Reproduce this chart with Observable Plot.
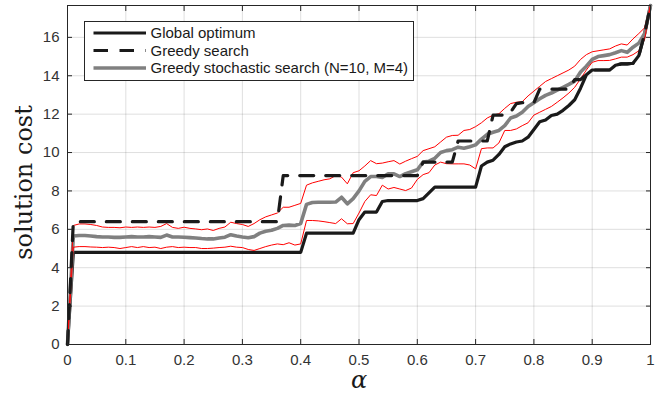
<!DOCTYPE html>
<html>
<head>
<meta charset="utf-8">
<script src="https://cdn.jsdelivr.net/npm/d3@7"></script>
<script src="https://cdn.jsdelivr.net/npm/@observablehq/plot@0.6"></script>
<style>
  body { margin: 0; background: #fff; }
  #wrap { position: relative; width: 657px; height: 395px; }
  #legend { position: absolute; left: 84px; top: 21px; width: 328px; height: 58px;
            border: 1px solid #262626; background: #fff; }
  #legend svg { display: block; }
  #legend text { font-family: "Liberation Sans", Arial, sans-serif; font-size: 15px; fill: #1a1a1a; }
</style>
</head>
<body>
<div id="wrap">
  <div id="chart"></div>
  <div id="legend"></div>
</div>
<script>
// alpha values (x)
const alpha = [0,0.01,0.02,0.03,0.04,0.05,0.06,0.07,0.08,0.09,
  0.10,0.11,0.12,0.13,0.14,0.15,0.16,0.17,0.18,0.19,
  0.20,0.21,0.22,0.23,0.24,0.25,0.26,0.27,0.28,0.29,
  0.30,0.31,0.32,0.33,0.34,0.35,0.36,0.37,0.38,0.39,
  0.40,0.41,0.42,0.43,0.44,0.45,0.46,0.47,0.48,0.49,
  0.50,0.51,0.52,0.53,0.54,0.55,0.56,0.57,0.58,0.59,
  0.60,0.61,0.62,0.63,0.64,0.65,0.66,0.67,0.68,0.69,
  0.70,0.71,0.72,0.73,0.74,0.75,0.76,0.77,0.78,0.79,
  0.80,0.81,0.82,0.83,0.84,0.85,0.86,0.87,0.88,0.89,
  0.90,0.91,0.92,0.93,0.94,0.95,0.96,0.97,0.98,0.99,1.00];

// Global optimum
const optimum = [0,4.8,4.8,4.8,4.8,4.8,4.8,4.8,4.8,4.8,
  4.8,4.8,4.8,4.8,4.8,4.8,4.8,4.8,4.8,4.8,
  4.8,4.8,4.8,4.8,4.8,4.8,4.8,4.8,4.8,4.8,
  4.8,4.8,4.8,4.8,4.8,4.8,4.8,4.8,4.8,4.8,
  4.8,5.8,5.8,5.8,5.8,5.8,5.8,5.8,5.8,5.8,
  6.5,6.9,6.9,6.9,7.45,7.5,7.5,7.5,7.5,7.5,
  7.5,7.6,7.9,8.2,8.2,8.2,8.2,8.2,8.2,8.2,
  8.2,9.3,9.5,9.6,9.9,10.3,10.45,10.55,10.6,10.8,
  11.2,11.6,11.7,11.93,12.0,12.2,12.45,12.75,13.35,14.05,
  14.3,14.3,14.3,14.3,14.55,14.62,14.62,14.65,15.05,16.2,17.66];

// Greedy search
const greedy = [0,6.4,6.4,6.4,6.4,6.4,6.4,6.4,6.4,6.4,
  6.4,6.4,6.4,6.4,6.4,6.4,6.4,6.4,6.4,6.4,
  6.4,6.4,6.4,6.4,6.4,6.4,6.4,6.4,6.4,6.4,
  6.4,6.4,6.4,6.4,6.4,6.4,6.4,8.8,8.8,8.8,
  8.8,8.8,8.8,8.8,8.8,8.8,8.8,8.8,8.8,8.8,
  8.8,8.8,8.8,8.8,8.8,8.8,8.8,8.8,8.8,8.8,
  8.8,9.5,9.5,9.5,9.5,9.5,9.5,10.6,10.6,10.6,
  10.6,10.6,10.6,11.95,11.95,11.95,12.1,12.55,12.6,12.6,
  12.6,13.3,13.3,13.3,13.3,13.3,13.3,13.8,13.8,14.05,
  14.3,14.3,14.3,14.3,14.55,14.62,14.62,14.65,15.05,16.2,17.66];

// Greedy stochastic search (N=10, M=4): mean
const stochMean = [0,5.65,5.68,5.68,5.65,5.62,5.6,5.6,5.58,5.58,
  5.6,5.62,5.6,5.6,5.62,5.6,5.58,5.7,5.6,5.6,
  5.59,5.57,5.55,5.52,5.5,5.5,5.55,5.59,5.72,5.65,
  5.6,5.56,5.62,5.8,5.9,5.95,6.05,6.2,6.22,6.2,
  6.3,7.3,7.4,7.41,7.41,7.41,7.42,7.67,7.33,7.6,
  8.0,8.5,8.75,8.75,8.7,8.89,8.89,8.75,8.9,9.0,
  9.1,9.5,9.55,9.7,10.0,10.1,10.15,10.28,10.22,10.3,
  10.4,10.7,10.95,11.06,11.15,11.4,11.8,11.9,12.1,12.4,
  12.6,12.8,12.98,13.1,13.25,13.4,13.55,13.72,14.2,14.5,
  14.85,15.0,15.05,15.1,15.2,15.31,15.22,15.49,15.7,16.2,17.66];

// Greedy stochastic search: upper bound (red)
const stochHigh = [0,6.2,6.28,6.28,6.25,6.2,6.12,6.1,6.1,6.08,
  6.12,6.1,6.12,6.1,6.12,6.1,6.15,6.3,6.1,6.05,
  6.11,6.05,6.02,5.98,6.02,5.94,6.05,6.12,6.37,6.3,
  6.25,6.15,6.3,6.5,6.65,6.75,6.85,7.15,7.15,7.25,
  7.35,8.3,8.42,8.5,8.58,8.63,8.8,8.72,8.37,8.95,
  9.05,9.3,9.58,9.42,9.45,9.52,9.58,9.4,9.55,9.68,
  9.8,10.1,10.2,10.3,10.55,10.8,10.89,10.9,11.15,11.2,
  11.35,11.55,11.8,11.95,12.02,12.3,12.55,12.62,12.65,12.95,
  13.2,13.45,13.7,13.85,14.0,14.15,14.3,14.5,14.85,15.1,
  15.25,15.3,15.35,15.4,15.55,15.66,15.6,15.92,16.2,16.5,17.66];

// Greedy stochastic search: lower bound (red)
const stochLow = [0,5.07,5.1,5.1,5.08,5.07,5.05,5.07,5.05,5.0,
  5.05,5.1,5.05,5.1,5.05,5.07,5.0,5.07,5.1,5.05,
  5.07,5.05,5.05,5.0,5.0,5.02,5.05,5.07,5.12,5.07,
  5.05,4.95,4.9,5.0,5.1,5.18,5.24,5.2,5.3,5.18,
  5.24,6.46,6.46,6.44,6.4,6.35,6.3,6.55,6.29,6.3,
  6.85,7.45,7.8,7.76,8.3,8.1,8.18,8.1,8.02,8.15,
  8.6,8.85,8.95,9.35,9.5,9.42,9.41,9.41,9.41,9.35,
  9.15,10.2,10.24,10.24,10.5,11.15,11.15,11.23,11.4,11.55,
  11.95,12.1,12.25,12.4,12.62,12.85,13.1,13.4,13.84,14.3,
  14.7,14.79,14.79,14.8,14.88,14.97,14.97,15.1,15.3,15.9,17.66];

const xTicks = [0,0.1,0.2,0.3,0.4,0.5,0.6,0.7,0.8,0.9,1];
const xTickLabels = ["0","0.1","0.2","0.3","0.4","0.5","0.6","0.7","0.8","0.9","1"];
const yTicks = [0,2,4,6,8,10,12,14,16];
const yLabel = "solution cost";
const xLabel = "α";
const seriesNames = ["Global optimum", "Greedy search", "Greedy stochastic search (N=10, M=4)"];

const rows = alpha.map((a, i) => ({a, opt: optimum[i], greedy: greedy[i], mean: stochMean[i], lo: stochLow[i], hi: stochHigh[i]}));

const axisColor = "#262626";
const tickFont = {fontSize: 15, fontFamily: "Liberation Sans, Arial, sans-serif", fill: "#333"};

const chart = Plot.plot({
  width: 657,
  height: 395,
  marginLeft: 67,
  marginRight: 7,
  marginTop: 5,
  marginBottom: 51,
  style: {background: "#fff", overflow: "visible"},
  x: {domain: [0, 1]},
  y: {domain: [0, 17.66]},
  marks: [
    Plot.gridX(xTicks, {stroke: axisColor, strokeOpacity: 0.15, strokeWidth: 1}),
    Plot.gridY(yTicks, {stroke: axisColor, strokeOpacity: 0.15, strokeWidth: 1}),
    Plot.line(rows, {x: "a", y: "opt", stroke: "#1a1a1a", strokeWidth: 3.2, strokeLinejoin: "round"}),
    Plot.line(rows, {x: "a", y: "mean", stroke: "#808080", strokeWidth: 3.6, strokeLinejoin: "round"}),
    Plot.line(rows, {x: "a", y: "hi", stroke: "#ff0000", strokeWidth: 1}),
    Plot.line(rows, {x: "a", y: "lo", stroke: "#ff0000", strokeWidth: 1}),
    Plot.line(rows, {x: "a", y: "greedy", stroke: "#1a1a1a", strokeWidth: 3.2, strokeDasharray: "14,12"}),
    Plot.frame({stroke: axisColor, strokeWidth: 1}),
    Plot.axisX(xTicks, {anchor: "bottom", tickSize: 0, tickPadding: 10, tickFormat: (d, i) => xTickLabels[i], ...tickFont, label: null}),
    Plot.axisY(yTicks, {anchor: "left", tickSize: 0, tickPadding: 8, ...tickFont, label: null}),
    Plot.axisX(xTicks, {anchor: "bottom", tickSize: -5, text: null, stroke: axisColor, label: null}),
    Plot.axisX(xTicks, {anchor: "top", tickSize: -5, text: null, stroke: axisColor, label: null}),
    Plot.axisY(yTicks, {anchor: "left", tickSize: -5, text: null, stroke: axisColor, label: null}),
    Plot.axisY(yTicks, {anchor: "right", tickSize: -5, text: null, stroke: axisColor, label: null}),
    Plot.text([yLabel], {frameAnchor: "left", rotate: -90, dx: -43, dy: 7.5, text: d => d,
      fontSize: 24, fontFamily: "DejaVu Serif, serif", fill: "#1a1a1a", textAnchor: "middle", lineAnchor: "middle"}),
    Plot.text([xLabel], {frameAnchor: "bottom", dy: 36, text: d => d,
      fontSize: 24, fontFamily: "DejaVu Serif, serif", fontStyle: "italic", fill: "#1a1a1a", textAnchor: "middle", lineAnchor: "middle"})
  ]
});
document.getElementById("chart").appendChild(chart);

// legend
const ns = "http://www.w3.org/2000/svg";
const lg = document.createElementNS(ns, "svg");
lg.setAttribute("width", 328);
lg.setAttribute("height", 58);
const styles = [
  {stroke: "#1a1a1a", width: 3.2, dash: null},
  {stroke: "#1a1a1a", width: 3.2, dash: "14.5,11.5"},
  {stroke: "#808080", width: 3.6, dash: null}
];
const rowY = [11, 28.5, 46];
seriesNames.forEach((name, i) => {
  const ln = document.createElementNS(ns, "line");
  ln.setAttribute("x1", 8.5); ln.setAttribute("x2", 61);
  ln.setAttribute("y1", rowY[i]); ln.setAttribute("y2", rowY[i]);
  ln.setAttribute("stroke", styles[i].stroke);
  ln.setAttribute("stroke-width", styles[i].width);
  if (styles[i].dash) ln.setAttribute("stroke-dasharray", styles[i].dash);
  lg.appendChild(ln);
  const tx = document.createElementNS(ns, "text");
  tx.setAttribute("x", 65.5);
  tx.setAttribute("y", rowY[i] + 5);
  tx.textContent = name;
  lg.appendChild(tx);
});
document.getElementById("legend").appendChild(lg);
</script>
</body>
</html>
